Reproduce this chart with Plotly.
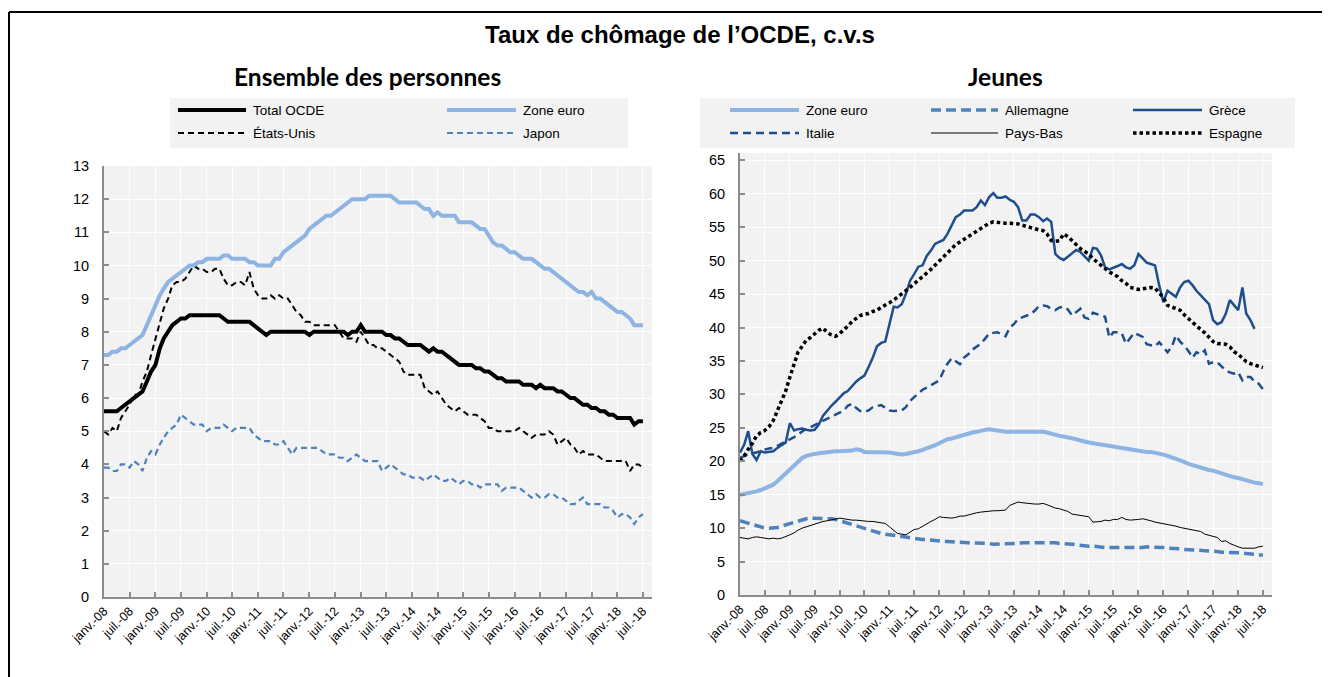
import pandas as pd
import plotly.graph_objects as go

# ---------------- data (monthly, from janv. 2008) ----------------
tick_labels = ["janv.-08", "juil.-08", "janv.-09", "juil.-09", "janv.-10", "juil.-10",
               "janv.-11", "juil.-11", "janv.-12", "juil.-12", "janv.-13", "juil.-13",
               "janv.-14", "juil.-14", "janv.-15", "juil.-15", "janv.-16", "juil.-16",
               "janv.-17", "juil.-17", "janv.-18", "juil.-18"]

# Ensemble des personnes
total_ocde = [5.6, 5.6, 5.6, 5.6, 5.7, 5.8, 5.9, 6.0, 6.1, 6.2, 6.5, 6.8,
              7.0, 7.5, 7.8, 8.0, 8.2, 8.3, 8.4, 8.4, 8.5, 8.5, 8.5, 8.5,
              8.5, 8.5, 8.5, 8.5, 8.4, 8.3, 8.3, 8.3, 8.3, 8.3, 8.3, 8.2,
              8.1, 8.0, 7.9, 8.0, 8.0, 8.0, 8.0, 8.0, 8.0, 8.0, 8.0, 8.0,
              7.9, 8.0, 8.0, 8.0, 8.0, 8.0, 8.0, 8.0, 8.0, 7.9, 8.0, 8.0,
              8.2, 8.0, 8.0, 8.0, 8.0, 8.0, 7.9, 7.9, 7.8, 7.8, 7.7, 7.6,
              7.6, 7.6, 7.6, 7.5, 7.4, 7.5, 7.4, 7.4, 7.3, 7.2, 7.1, 7.0,
              7.0, 7.0, 7.0, 6.9, 6.9, 6.8, 6.8, 6.7, 6.6, 6.6, 6.5, 6.5,
              6.5, 6.5, 6.4, 6.4, 6.4, 6.3, 6.4, 6.3, 6.3, 6.3, 6.2, 6.2,
              6.1, 6.0, 6.0, 5.9, 5.8, 5.8, 5.7, 5.7, 5.6, 5.6, 5.5, 5.5,
              5.4, 5.4, 5.4, 5.4, 5.2, 5.3, 5.3]
zone_euro = [7.3, 7.3, 7.4, 7.4, 7.5, 7.5, 7.6, 7.7, 7.8, 7.9, 8.2, 8.5,
             8.8, 9.1, 9.3, 9.5, 9.6, 9.7, 9.8, 9.9, 10.0, 10.0, 10.1, 10.1,
             10.2, 10.2, 10.2, 10.2, 10.3, 10.3, 10.2, 10.2, 10.2, 10.2, 10.1, 10.1,
             10.0, 10.0, 10.0, 10.0, 10.2, 10.2, 10.4, 10.5, 10.6, 10.7, 10.8, 10.9,
             11.1, 11.2, 11.3, 11.4, 11.5, 11.5, 11.6, 11.7, 11.8, 11.9, 12.0, 12.0,
             12.0, 12.0, 12.1, 12.1, 12.1, 12.1, 12.1, 12.1, 12.0, 11.9, 11.9, 11.9,
             11.9, 11.9, 11.8, 11.7, 11.7, 11.5, 11.6, 11.5, 11.5, 11.5, 11.5, 11.3,
             11.3, 11.3, 11.3, 11.2, 11.1, 11.1, 10.9, 10.7, 10.6, 10.6, 10.5, 10.4,
             10.4, 10.3, 10.2, 10.2, 10.2, 10.1, 10.0, 9.9, 9.9, 9.8, 9.7, 9.6,
             9.5, 9.4, 9.3, 9.2, 9.2, 9.1, 9.2, 9.0, 9.0, 8.9, 8.8, 8.7,
             8.6, 8.6, 8.5, 8.4, 8.2, 8.2, 8.2]
etats_unis = [5.0, 4.9, 5.1, 5.0, 5.4, 5.6, 5.8, 6.1, 6.1, 6.5, 6.8, 7.3,
              7.8, 8.3, 8.7, 9.0, 9.4, 9.5, 9.5, 9.6, 9.8, 10.0, 9.9, 9.9,
              9.8, 9.8, 9.9, 9.9, 9.6, 9.4, 9.4, 9.5, 9.5, 9.4, 9.8, 9.3,
              9.1, 9.0, 9.0, 9.1, 9.0, 9.1, 9.0, 9.0, 8.8, 8.6, 8.5, 8.3,
              8.3, 8.2, 8.2, 8.2, 8.2, 8.2, 8.2, 8.0, 7.8, 7.8, 7.8, 7.7,
              8.0, 7.8, 7.6, 7.6, 7.5, 7.5, 7.4, 7.3, 7.2, 7.1, 6.8, 6.7,
              6.7, 6.7, 6.7, 6.3, 6.2, 6.1, 6.2, 6.0, 5.8, 5.7, 5.6, 5.7,
              5.6, 5.5, 5.5, 5.5, 5.4, 5.3, 5.1, 5.1, 5.0, 5.0, 5.0, 5.0,
              5.0, 5.1, 5.0, 4.9, 4.8, 4.9, 4.9, 4.9, 5.0, 4.9, 4.6, 4.7,
              4.8, 4.6, 4.5, 4.3, 4.4, 4.3, 4.3, 4.3, 4.2, 4.1, 4.1, 4.1,
              4.1, 4.1, 4.1, 3.8, 4.0, 4.0, 3.9]
japon = [3.9, 3.9, 3.8, 3.8, 4.0, 4.0, 3.9, 4.1, 4.0, 3.8, 4.2, 4.4,
         4.3, 4.6, 4.8, 5.0, 5.1, 5.2, 5.5, 5.4, 5.3, 5.2, 5.2, 5.2,
         5.0, 5.1, 5.1, 5.1, 5.2, 5.1, 5.0, 5.1, 5.1, 5.1, 5.1, 4.9,
         4.8, 4.7, 4.7, 4.7, 4.6, 4.6, 4.7, 4.5, 4.3, 4.5, 4.5, 4.5,
         4.5, 4.5, 4.5, 4.4, 4.3, 4.3, 4.3, 4.2, 4.2, 4.1, 4.2, 4.3,
         4.2, 4.1, 4.1, 4.1, 4.1, 3.8, 3.9, 4.0, 3.9, 3.8, 3.7, 3.7,
         3.6, 3.6, 3.6, 3.5, 3.6, 3.7, 3.6, 3.5, 3.5, 3.6, 3.5, 3.4,
         3.5, 3.5, 3.4, 3.4, 3.3, 3.4, 3.4, 3.4, 3.4, 3.2, 3.3, 3.3,
         3.3, 3.3, 3.2, 3.1, 3.0, 3.1, 3.0, 3.0, 3.1, 3.1, 3.0, 3.0,
         2.9, 2.8, 2.8, 2.9, 3.0, 2.8, 2.8, 2.8, 2.8, 2.7, 2.7, 2.6,
         2.4, 2.5, 2.5, 2.4, 2.2, 2.4, 2.5]

# Jeunes
j_zone_euro = [15.0, 15.1, 15.2, 15.3, 15.5, 15.7, 16.0, 16.2, 16.5, 17.0, 17.6, 18.2,
               18.8, 19.5, 20.1, 20.5, 20.8, 21.0, 21.1, 21.2, 21.3, 21.4, 21.4, 21.5,
               21.5, 21.5, 21.5, 21.6, 21.8, 21.7, 21.4, 21.4, 21.3, 21.3, 21.3, 21.3,
               21.3, 21.2, 21.1, 21.0, 21.1, 21.2, 21.3, 21.5, 21.7, 21.9, 22.1, 22.4,
               22.7, 23.1, 23.3, 23.4, 23.6, 23.8, 24.0, 24.2, 24.3, 24.4, 24.6, 24.7,
               24.8, 24.7, 24.5, 24.4, 24.4, 24.4, 24.4, 24.4, 24.4, 24.4, 24.5, 24.5,
               24.5, 24.4, 24.3, 24.1, 24.0, 23.8, 23.7, 23.6, 23.4, 23.3, 23.1, 22.9,
               22.8, 22.7, 22.6, 22.5, 22.4, 22.3, 22.2, 22.1, 22.0, 21.9, 21.8, 21.7,
               21.6, 21.5, 21.4, 21.4, 21.3, 21.1, 21.0, 20.8, 20.6, 20.4, 20.2, 19.9,
               19.6, 19.4, 19.3, 19.1, 18.9, 18.7, 18.6, 18.4, 18.1, 17.9, 17.8, 17.6,
               17.5, 17.3, 17.2, 17.0, 16.8, 16.7, 16.6]
allemagne = [11.1, 10.9, 10.7, 10.5, 10.3, 10.1, 10.0, 10.0, 10.0, 10.1, 10.3, 10.5,
             10.7, 10.9, 11.1, 11.3, 11.4, 11.5, 11.5, 11.5, 11.5, 11.5, 11.4, 11.3,
             11.1, 10.9, 10.7, 10.5, 10.3, 10.1, 9.9, 9.7, 9.5, 9.3, 9.2, 9.1,
             9.0, 8.9, 8.8, 8.7, 8.6, 8.5, 8.5, 8.4, 8.3, 8.3, 8.2, 8.1,
             8.0, 8.0, 8.0, 7.9, 7.9, 7.9, 7.8, 7.8, 7.8, 7.8, 7.7, 7.7,
             7.7, 7.6, 7.6, 7.6, 7.6, 7.6, 7.7, 7.7, 7.8, 7.8, 7.8, 7.9,
             7.9, 7.9, 7.9, 7.8, 7.8, 7.7, 7.7, 7.6, 7.6, 7.5, 7.4, 7.4,
             7.3, 7.3, 7.2, 7.2, 7.1, 7.1, 7.1, 7.0, 7.0, 7.0, 7.1, 7.1,
             7.1, 7.1, 7.2, 7.2, 7.2, 7.1, 7.1, 7.0, 7.0, 6.9, 6.9, 6.8,
             6.8, 6.8, 6.7, 6.7, 6.6, 6.6, 6.5, 6.5, 6.4, 6.4, 6.4, 6.3,
             6.3, 6.3, 6.2, 6.2, 6.1, 6.0, 6.0]
grece = [21.3, 22.5, 24.5, 21.1, 20.2, 21.5, 21.3, 21.4, 21.5, 22.0, 22.4, 22.8,
         25.7, 24.6, 24.8, 24.9, 24.7, 24.6, 24.7, 25.5, 26.8, 27.6, 28.3, 28.9,
         29.6, 30.2, 30.5, 31.2, 31.9, 32.4, 32.8, 34.1, 35.5, 37.2, 37.7, 37.9,
         40.5, 43.1, 43.0, 43.5, 45.0, 47.0, 48.0, 49.1, 49.3, 50.7, 51.5, 52.5,
         52.8, 53.1, 54.0, 55.3, 56.5, 56.9, 57.5, 57.5, 57.5, 58.0, 59.0, 58.3,
         59.5, 60.1, 59.4, 59.4, 59.6, 59.1, 58.8, 58.0, 56.0, 56.0, 56.9, 56.9,
         56.5, 55.9, 56.3, 55.8, 51.0, 50.4, 50.1, 50.6, 51.1, 51.6, 51.3, 50.6,
         50.0, 51.9, 51.8, 50.8, 49.0, 48.7, 48.9, 49.2, 49.5, 49.0, 48.8, 49.3,
         51.0, 50.3, 49.7, 49.5, 49.3, 46.3, 43.8, 45.5, 45.0, 44.6, 46.0, 46.8,
         47.0, 46.3, 45.5, 44.8, 44.1, 43.5, 41.1, 40.5, 40.8, 42.0, 44.1, 43.3,
         42.6, 46.0, 42.1, 41.1, 39.8]
italie = [20.5, 20.8, 21.0, 21.2, 21.3, 21.6, 21.8, 21.9, 22.0, 22.3, 22.6, 23.0,
          23.3, 23.6, 24.0, 24.5, 24.9, 25.1, 25.4, 25.7, 26.0, 26.4, 26.6, 26.9,
          27.2, 27.6, 28.3, 28.6, 28.0, 27.5, 27.4, 27.6, 28.1, 28.2, 28.4, 28.0,
          27.6, 27.5, 27.6, 27.6, 28.1, 29.0, 29.6, 30.2, 30.7, 31.0, 31.4, 31.7,
          32.1, 33.5, 34.6, 35.4, 34.9, 34.5, 35.5, 36.0, 36.7, 37.2, 37.6, 38.3,
          39.1, 39.2, 39.3, 39.0, 38.7, 40.0, 40.5, 41.3, 41.5, 41.7, 42.0, 42.5,
          43.2, 43.3, 43.2, 42.8, 42.6, 43.0, 43.1, 42.7, 41.8, 42.3, 42.8, 41.5,
          41.3, 42.2, 42.0, 41.8, 41.6, 38.5, 39.3, 39.3, 39.1, 37.6, 38.5, 39.2,
          38.9, 38.6, 37.5, 37.4, 37.2, 37.8, 37.0, 36.3, 37.1, 38.8, 37.9, 37.3,
          36.5, 35.5, 36.3, 36.0, 36.6, 34.6, 34.8, 34.8, 34.2, 33.6, 33.3, 33.1,
          33.3, 32.1, 32.6, 32.6, 31.9, 31.6, 30.8]
pays_bas = [8.6, 8.5, 8.4, 8.6, 8.7, 8.6, 8.5, 8.4, 8.5, 8.4, 8.5, 8.7,
            9.0, 9.3, 9.7, 10.0, 10.2, 10.5, 10.7, 10.9, 11.0, 11.1, 11.2, 11.4,
            11.5, 11.4, 11.3, 11.2, 11.2, 11.1, 11.1, 11.0, 11.0, 10.9, 10.8, 10.7,
            10.2, 9.6, 9.2, 9.1, 9.0, 9.4, 9.8, 9.9, 10.3, 10.6, 11.0, 11.3,
            11.7, 11.6, 11.5, 11.5, 11.6, 11.8, 11.8, 12.0, 12.2, 12.3, 12.4, 12.5,
            12.5, 12.6, 12.6, 12.6, 12.7, 13.4, 13.6, 13.9, 13.8, 13.7, 13.7, 13.6,
            13.6, 13.7, 13.5, 13.2, 13.0, 12.9, 12.7, 12.5, 12.1, 12.0, 11.9, 11.8,
            11.7, 10.9, 10.9, 11.0, 11.2, 11.1, 11.3, 11.3, 11.6, 11.3, 11.2, 11.2,
            11.3, 11.4, 11.2, 11.1, 10.9, 10.8, 10.7, 10.5, 10.4, 10.3, 10.1, 10.0,
            9.9, 9.8, 9.6, 9.5, 9.1, 8.9, 8.8, 8.6, 8.0, 8.1, 7.7, 7.4,
            7.2, 7.0, 7.0, 7.0, 7.0, 7.2, 7.3]
espagne = [20.0, 20.8, 21.8, 22.7, 23.8, 24.3, 24.6, 25.2, 26.1, 27.5, 28.9, 30.5,
           32.6, 34.5, 36.3, 37.2, 38.1, 38.5, 39.1, 39.6, 39.9, 39.3, 38.9, 38.7,
           39.1, 39.6, 40.2, 40.9, 41.4, 41.8, 42.0, 42.1, 42.4, 42.6, 43.0, 43.3,
           43.7, 44.1, 44.5, 45.0, 45.5, 46.0, 46.6, 47.1, 47.6, 48.1, 48.7, 49.3,
           49.9, 50.5, 51.1, 51.8, 52.4, 52.8, 53.2, 53.6, 54.0, 54.5, 54.9, 55.3,
           55.6, 55.8, 55.7, 55.6, 55.6, 55.6, 55.6, 55.5, 55.3, 55.1, 54.9, 54.7,
           54.6, 54.5, 54.0, 53.0, 52.9, 53.0, 54.0, 53.6, 53.0, 52.3, 51.8, 51.4,
           51.0, 50.3, 49.8, 49.3, 48.8, 48.3, 48.0, 47.6, 47.0, 46.6, 46.0, 45.8,
           45.7, 45.8, 45.9, 46.0, 45.9, 45.2, 44.5, 43.3, 43.1, 42.9, 42.6, 41.9,
           41.3, 40.8, 40.3, 39.7, 39.2, 38.5, 37.9, 37.6, 37.6, 37.5, 37.1, 36.4,
           36.0, 35.4, 34.9, 34.6, 34.4, 34.2, 34.0]

# ---------------- styling ----------------
# the page body has an 8px margin: the figure is drawn 8px in and 8px down
OFF = 8
W, H = 1330 - OFF, 677 - OFF
FONT = "Liberation Sans, Arial, sans-serif"
LIGHT = "#8DB4E2"
MID = "#4F81BD"
DARK = "#1F4E8C"
AXIS = "#8C8C8C"
BG = "#F2F2F2"


def months(n):
    return pd.date_range("2008-01-01", periods=n, freq="MS")


tick_dates = pd.date_range("2008-01-01", periods=len(tick_labels), freq="6MS")

fig = go.Figure()

left = [
    ("Total OCDE", total_ocde, dict(color="black", width=4)),
    ("Zone euro", zone_euro, dict(color=LIGHT, width=4)),
    ("États-Unis", etats_unis, dict(color="black", width=2, dash="6px,4px")),
    ("Japon", japon, dict(color=MID, width=2.2, dash="6px,4px")),
]
for name, vals, ln in [left[3], left[2], left[1], left[0]]:
    fig.add_trace(go.Scatter(x=months(len(vals)), y=vals, name=name, mode="lines",
                             line=ln, xaxis="x", yaxis="y", showlegend=False,
                             hoverinfo="x+y+name"))

right = [
    ("Zone euro", j_zone_euro, dict(color=LIGHT, width=4)),
    ("Allemagne", allemagne, dict(color=MID, width=3.5, dash="10px,5px")),
    ("Grèce", grece, dict(color=DARK, width=2.5)),
    ("Italie", italie, dict(color=DARK, width=2.5, dash="8px,5px")),
    ("Pays-Bas", pays_bas, dict(color="black", width=1)),
    ("Espagne", espagne, dict(color="black", width=3.5, dash="3.5px,3px")),
]
for name, vals, ln in right:
    fig.add_trace(go.Scatter(x=months(len(vals)), y=vals, name=name, mode="lines",
                             line=ln, xaxis="x2", yaxis="y2", showlegend=False,
                             hoverinfo="x+y+name"))


def X(px):
    return (px - OFF) / W


def Y(py):
    return 1 - (py - OFF) / H


xcommon = dict(type="date", tickmode="array", tickvals=tick_dates, ticktext=tick_labels,
               tickangle=-45, tickfont=dict(family=FONT, size=12.5, color="black"),
               showgrid=True, gridcolor="white", gridwidth=1,
               showline=True, linecolor=AXIS, linewidth=2,
               ticks="inside", ticklen=5, tickcolor=AXIS, tickwidth=1.5,
               zeroline=False, fixedrange=True, automargin=False)
ycommon = dict(tickfont=dict(family=FONT, size=14.5, color="black"),
               showgrid=True, gridcolor="white", gridwidth=1,
               showline=True, linecolor=AXIS, linewidth=2,
               ticks="inside", ticklen=5, tickcolor=AXIS, tickwidth=1.5,
               zeroline=False, ticklabelstandoff=10, fixedrange=True, automargin=False)

fig.update_layout(
    width=W, height=H, margin=dict(l=0, r=0, t=0, b=0, pad=0, autoexpand=False),
    paper_bgcolor="white", plot_bgcolor=BG, showlegend=False,
    xaxis=dict(xcommon, domain=[X(104), X(652)], range=["2008-01-01", "2018-09-04"],
               anchor="y"),
    yaxis=dict(ycommon, domain=[Y(597), Y(166)], range=[0, 13], dtick=1, anchor="x"),
    xaxis2=dict(xcommon, domain=[X(740), X(1272)], range=["2008-01-01", "2018-09-06"],
                anchor="y2"),
    yaxis2=dict(ycommon, domain=[Y(595), Y(153)], range=[0, 66.1], tickvals=list(range(0, 70, 5)),
                anchor="x2"),
)

shapes = []
shapes.append(dict(type="line", xref="paper", yref="paper", x0=X(9), x1=1, y0=Y(12), y1=Y(12),
                   line=dict(color="black", width=2)))
shapes.append(dict(type="line", xref="paper", yref="paper", x0=X(9), x1=X(9), y0=Y(12), y1=0,
                   line=dict(color="black", width=2)))
shapes.append(dict(type="rect", xref="paper", yref="paper", x0=X(170), x1=X(628), y0=Y(148), y1=Y(98),
                   fillcolor=BG, line=dict(width=0), layer="below"))
shapes.append(dict(type="rect", xref="paper", yref="paper", x0=X(700), x1=X(1295), y0=Y(148), y1=Y(98),
                   fillcolor=BG, line=dict(width=0), layer="below"))

annotations = []


def legend_item(x0, x1, y, text, ln):
    shapes.append(dict(type="line", xref="paper", yref="paper", x0=X(x0), x1=X(x1), y0=Y(y), y1=Y(y),
                       line=ln))
    annotations.append(dict(text=text, xref="paper", yref="paper", x=X(x1 + 5), y=Y(y),
                            xanchor="left", yanchor="middle", showarrow=False,
                            font=dict(family=FONT, size=13.5, color="black")))


legend_item(178, 246, 110, left[0][0], left[0][2])
legend_item(447, 516, 110, left[1][0], left[1][2])
legend_item(178, 246, 133, left[2][0], left[2][2])
legend_item(447, 516, 133, left[3][0], left[3][2])

legend_item(730, 799, 110, right[0][0], right[0][2])
legend_item(931, 998, 110, right[1][0], right[1][2])
legend_item(1133, 1202, 110, right[2][0], right[2][2])
legend_item(730, 799, 133, right[3][0], right[3][2])
legend_item(931, 998, 133, right[4][0], right[4][2])
legend_item(1133, 1202, 133, right[5][0], right[5][2])

annotations.append(dict(text="<b>Taux de chômage de l’OCDE, c.v.s</b>", xref="paper", yref="paper",
                        x=X(680), y=Y(34), xanchor="center", yanchor="middle", showarrow=False,
                        font=dict(family=FONT, size=24, color="black")))
annotations.append(dict(text="<b>Ensemble des personnes</b>", xref="paper", yref="paper",
                        x=X(367), y=Y(77), xanchor="center", yanchor="middle", showarrow=False,
                        font=dict(family="Lato, Carlito, sans-serif", size=24.5, color="black")))
annotations.append(dict(text="<b>Jeunes</b>", xref="paper", yref="paper",
                        x=X(1005), y=Y(77), xanchor="center", yanchor="middle", showarrow=False,
                        font=dict(family="Lato, Carlito, sans-serif", size=24.5, color="black")))

fig.update_layout(shapes=shapes, annotations=annotations)

fig.write_html("out.html")
